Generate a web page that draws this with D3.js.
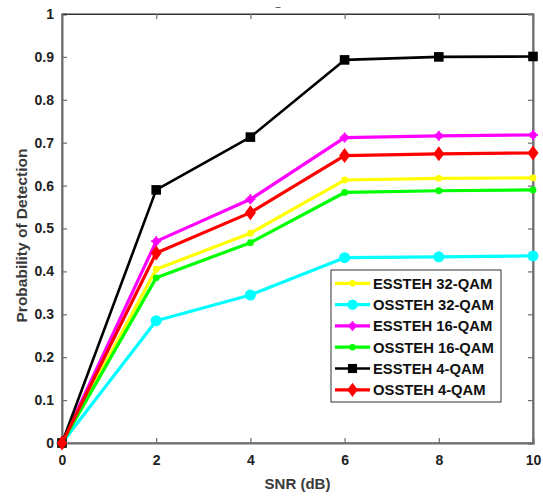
<!DOCTYPE html>
<html>
<head>
<meta charset="utf-8">
<script src="https://cdn.jsdelivr.net/npm/d3@7"></script>
<style>
  html, body { margin: 0; padding: 0; background: #fff; }
  svg { display: block; font-family: "Liberation Sans", Arial, sans-serif; }
</style>
</head>
<body>
<svg id="chart" width="543" height="497"></svg>
<script>
// SNR sweep (dB)
const snr = [0, 2, 4, 6, 8, 10];

// Detection probability per scheme
const essteh32 = [0, 0.405, 0.489, 0.613, 0.617, 0.618];
const ossteh32 = [0, 0.285, 0.345, 0.432, 0.434, 0.436];
const essteh16 = [0, 0.470, 0.568, 0.712, 0.716, 0.718];
const ossteh16 = [0, 0.385, 0.467, 0.584, 0.588, 0.590];
const essteh4  = [0, 0.590, 0.713, 0.893, 0.900, 0.901];
const ossteh4  = [0, 0.443, 0.537, 0.670, 0.674, 0.676];

const seriesNames = ["ESSTEH 32-QAM", "OSSTEH 32-QAM", "ESSTEH 16-QAM", "OSSTEH 16-QAM", "ESSTEH 4-QAM", "OSSTEH 4-QAM"];
const xTicks = [0, 2, 4, 6, 8, 10];
const yTicks = [0, 0.1, 0.2, 0.3, 0.4, 0.5, 0.6, 0.7, 0.8, 0.9, 1];

const series = [
  { name: seriesNames[0], values: essteh32, color: "#ffff00", marker: "dot",     width: 3.2 },
  { name: seriesNames[1], values: ossteh32, color: "#00ffff", marker: "circle",  width: 3.2 },
  { name: seriesNames[2], values: essteh16, color: "#ff00ff", marker: "plus",    width: 3.2 },
  { name: seriesNames[3], values: ossteh16, color: "#00ff00", marker: "dot",     width: 3.2 },
  { name: seriesNames[4], values: essteh4,  color: "#000000", marker: "square",  width: 2.6 },
  { name: seriesNames[5], values: ossteh4,  color: "#ff0000", marker: "diamond", width: 3.2 }
];

const svg = d3.select("#chart");
const m = { left: 62, right: 533, top: 14, bottom: 443 };

const x = d3.scaleLinear().domain([0, 10]).range([m.left, m.right]);
const y = d3.scaleLinear().domain([0, 1]).range([m.bottom, m.top]);

// plot box
svg.append("rect")
  .attr("x", m.left).attr("y", m.top)
  .attr("width", m.right - m.left).attr("height", m.bottom - m.top)
  .attr("fill", "#fff").attr("stroke", "#333").attr("stroke-width", 1);

const axisColor = "#6e6e6e";
const tickFont = "bold 14px 'Liberation Sans', Arial, sans-serif";

// bottom axis
const gx = svg.append("g").attr("transform", `translate(0,${m.bottom})`)
  .call(d3.axisBottom(x).tickValues(xTicks).tickFormat(d3.format("d")).tickSize(-5).tickPadding(12));
// left axis
const gy = svg.append("g").attr("transform", `translate(${m.left},0)`)
  .call(d3.axisLeft(y).tickValues(yTicks).tickFormat(d => d === 0 ? "0" : d === 1 ? "1" : d3.format(".1f")(d)).tickSize(-5).tickPadding(8));
// top and right tick marks
const gt = svg.append("g").attr("transform", `translate(0,${m.top})`)
  .call(d3.axisTop(x).tickValues(xTicks).tickFormat("").tickSize(-5));
const gr = svg.append("g").attr("transform", `translate(${m.right},0)`)
  .call(d3.axisRight(y).tickValues(yTicks).tickFormat("").tickSize(-5));

[gx, gy].forEach(g => {
  g.select(".domain").attr("stroke", axisColor).attr("stroke-width", 2);
  g.selectAll(".tick line").attr("stroke", axisColor).attr("stroke-width", 1.2);
  g.selectAll(".tick text").attr("fill", "#222").style("font", tickFont);
});
[gt, gr].forEach(g => {
  g.select(".domain").attr("stroke", "#333").attr("stroke-width", 1);
  g.selectAll(".tick line").attr("stroke", axisColor).attr("stroke-width", 1.2);
});
gr.select(".domain").attr("stroke", axisColor).attr("stroke-width", 2);

// axis titles
svg.append("text")
  .attr("x", (m.left + m.right) / 2).attr("y", 489)
  .attr("text-anchor", "middle")
  .attr("fill", "#3a3a3a")
  .style("font", "bold 15px 'Liberation Sans', Arial, sans-serif")
  .text("SNR (dB)");
svg.append("text")
  .attr("transform", `translate(27,${(m.top + m.bottom) / 2 + 7}) rotate(-90)`)
  .attr("text-anchor", "middle")
  .attr("fill", "#3a3a3a")
  .style("font", "bold 15.5px 'Liberation Sans', Arial, sans-serif")
  .text("Probability of Detection");

// empty title placeholder dash
svg.append("text")
  .attr("x", 278).attr("y", 10)
  .attr("text-anchor", "middle")
  .attr("fill", "#223")
  .style("font", "9px 'Liberation Sans', Arial, sans-serif")
  .text("–");

function drawMarker(g, type, cx, cy, color, scale) {
  const s = scale || 1;
  if (type === "dot") {
    g.append("circle").attr("cx", cx).attr("cy", cy).attr("r", 3.4 * s).attr("fill", color);
  } else if (type === "circle") {
    g.append("circle").attr("cx", cx).attr("cy", cy).attr("r", 5.5 * s).attr("fill", color);
  } else if (type === "plus") {
    g.append("circle").attr("cx", cx).attr("cy", cy).attr("r", 3.6 * s).attr("fill", color);
    g.append("path").attr("d", `M${cx - 5 * s},${cy}H${cx + 5 * s}M${cx},${cy - 5 * s}V${cy + 5 * s}`)
      .attr("stroke", color).attr("stroke-width", 2);
  } else if (type === "square") {
    const h = 4.8 * s;
    g.append("rect").attr("x", cx - h).attr("y", cy - h).attr("width", 2 * h).attr("height", 2 * h).attr("fill", color);
  } else if (type === "diamond") {
    const w = 5.5 * s, hh = 7.5 * s;
    g.append("path").attr("d", `M${cx},${cy - hh}L${cx + w},${cy}L${cx},${cy + hh}L${cx - w},${cy}Z`).attr("fill", color);
  }
}

// series lines and markers
const line = d3.line().x((d, i) => x(snr[i])).y(d => y(d));
series.forEach(s => {
  const g = svg.append("g");
  g.append("path").datum(s.values)
    .attr("d", line)
    .attr("fill", "none")
    .attr("stroke", s.color)
    .attr("stroke-width", s.width)
    .attr("stroke-linejoin", "round");
  s.values.forEach((v, i) => drawMarker(g, s.marker, x(snr[i]), y(v), s.color, 1));
});

// legend
const lg = svg.append("g");
const lx = 331, ly = 270, lw = 170, lh = 132, rowH = 21.3;
lg.append("rect").attr("x", lx).attr("y", ly).attr("width", lw).attr("height", lh)
  .attr("fill", "#fff").attr("stroke", "#333").attr("stroke-width", 1);
series.forEach((s, i) => {
  const cy = ly + 13.3 + i * rowH;
  lg.append("line").attr("x1", lx + 4).attr("x2", lx + 39).attr("y1", cy).attr("y2", cy)
    .attr("stroke", s.color).attr("stroke-width", s.width);
  drawMarker(lg, s.marker, lx + 21.5, cy, s.color, 0.95);
  lg.append("text").attr("x", lx + 42).attr("y", cy + 5.5)
    .attr("fill", "#111")
    .style("font", "bold 14.8px 'Liberation Sans', Arial, sans-serif")
    .text(s.name);
});
</script>
</body>
</html>
